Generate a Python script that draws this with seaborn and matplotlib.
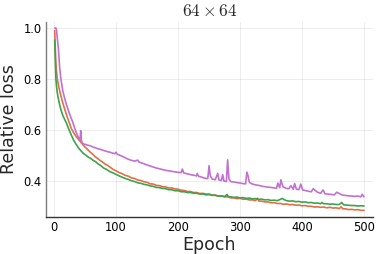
import matplotlib
matplotlib.use("Agg")
import matplotlib.pyplot as plt
import seaborn as sns
import pandas as pd

# ---- data ----
orange_epoch = [1, 2, 3, 4, 5, 6, 8, 10, 12, 14, 17, 20, 24, 28, 32, 36, 42, 46, 50, 54, 58, 62, 66, 70, 74,
                78, 82, 86, 90, 95, 100, 105, 110, 115, 120, 125, 130, 135, 140, 145, 150, 155, 160, 165,
                170, 175, 180, 185, 190, 195, 200, 205, 210, 215, 220, 225, 230, 235, 240, 245, 250, 255,
                260, 265, 270, 275, 280, 285, 290, 295, 300, 305, 310, 315, 320, 325, 328, 330, 335, 340,
                345, 350, 355, 360, 365, 370, 375, 380, 385, 390, 395, 400, 405, 410, 415, 420, 425, 430,
                435, 440, 445, 450, 455, 460, 463, 466, 470, 475, 480, 485, 490, 495, 500]
orange_loss = [0.99, 0.92, 0.86, 0.83, 0.805, 0.79, 0.765, 0.745, 0.725, 0.707, 0.683, 0.66, 0.632, 0.605,
               0.588, 0.573, 0.556, 0.544, 0.533, 0.524, 0.514, 0.506, 0.496, 0.489, 0.481, 0.475, 0.467,
               0.462, 0.455, 0.446, 0.440, 0.433, 0.429, 0.422, 0.419, 0.412, 0.410, 0.404, 0.402, 0.397,
               0.395, 0.389, 0.388, 0.383, 0.382, 0.378, 0.377, 0.373, 0.373, 0.369, 0.368, 0.364, 0.363,
               0.359, 0.359, 0.355, 0.355, 0.351, 0.352, 0.349, 0.349, 0.345, 0.345, 0.341, 0.341, 0.338,
               0.338, 0.334, 0.334, 0.331, 0.332, 0.329, 0.329, 0.326, 0.326, 0.323, 0.333, 0.322, 0.321,
               0.318, 0.318, 0.315, 0.315, 0.312, 0.312, 0.309, 0.310, 0.307, 0.308, 0.305, 0.306, 0.303,
               0.304, 0.301, 0.301, 0.298, 0.299, 0.297, 0.298, 0.295, 0.297, 0.294, 0.295, 0.292, 0.299,
               0.291, 0.291, 0.288, 0.289, 0.287, 0.288, 0.285, 0.285]

green_epoch = [1, 2, 3, 4, 5, 6, 8, 10, 12, 14, 17, 20, 23, 27, 31, 35, 40, 44, 47, 51, 55, 59, 63, 67, 70,
               75, 80, 85, 90, 95, 100, 105, 110, 115, 120, 125, 130, 135, 140, 145, 150, 155, 160, 165,
               170, 175, 180, 185, 190, 195, 200, 205, 210, 215, 220, 225, 230, 235, 240, 245, 250, 255,
               260, 265, 270, 275, 279, 281, 285, 290, 295, 300, 305, 310, 315, 320, 325, 330, 335, 340,
               345, 350, 355, 360, 365, 368, 372, 375, 380, 385, 390, 395, 400, 405, 410, 415, 420, 425,
               430, 432, 435, 440, 445, 450, 455, 460, 464, 467, 470, 475, 480, 485, 490, 495, 500]
green_loss = [0.953, 0.87, 0.80, 0.77, 0.75, 0.735, 0.71, 0.69, 0.672, 0.658, 0.642, 0.627, 0.608, 0.585,
              0.563, 0.546, 0.528, 0.517, 0.509, 0.502, 0.494, 0.489, 0.481, 0.476, 0.469, 0.461, 0.451,
              0.445, 0.437, 0.432, 0.426, 0.42, 0.415, 0.41, 0.406, 0.401, 0.398, 0.393, 0.391, 0.387,
              0.385, 0.381, 0.379, 0.375, 0.374, 0.371, 0.370, 0.366, 0.366, 0.362, 0.362, 0.358, 0.358,
              0.355, 0.355, 0.352, 0.352, 0.349, 0.349, 0.346, 0.347, 0.344, 0.344, 0.341, 0.342, 0.339,
              0.347, 0.339, 0.338, 0.336, 0.337, 0.334, 0.335, 0.332, 0.333, 0.330, 0.331, 0.328, 0.329,
              0.326, 0.327, 0.324, 0.325, 0.323, 0.328, 0.332, 0.326, 0.323, 0.321, 0.322, 0.319, 0.320,
              0.317, 0.318, 0.315, 0.316, 0.313, 0.314, 0.311, 0.316, 0.311, 0.311, 0.309, 0.310, 0.308,
              0.308, 0.316, 0.307, 0.306, 0.305, 0.304, 0.304, 0.302, 0.303, 0.302]

purple_epoch = [1, 3, 4, 5, 7, 9, 11, 14, 17, 20, 24, 27, 30, 34, 38, 41, 42, 43, 44, 45, 47, 51, 55, 59,
                63, 67, 70, 75, 80, 85, 90, 95, 98, 100, 102, 105, 110, 115, 120, 125, 130, 135, 137, 140,
                145, 150, 155, 160, 165, 170, 175, 180, 185, 190, 195, 200, 205, 207, 209, 215, 220, 225,
                230, 231, 233, 240, 245, 248, 250, 252, 255, 260, 264, 266, 270, 272, 274, 278, 280, 282,
                285, 290, 295, 300, 305, 309, 311, 313, 315, 320, 325, 330, 335, 340, 345, 350, 355, 359,
                361, 364, 366, 369, 375, 379, 382, 386, 388, 391, 395, 398, 401, 405, 410, 415, 418, 425,
                430, 434, 437, 445, 452, 456, 465, 475, 485, 490, 495, 497, 500]
purple_loss = [1.0, 1.0, 0.99, 0.965, 0.92, 0.845, 0.80, 0.755, 0.725, 0.70, 0.67, 0.65, 0.632, 0.602,
               0.577, 0.565, 0.561, 0.597, 0.56, 0.552, 0.546, 0.543, 0.540, 0.538, 0.533, 0.530, 0.527,
               0.524, 0.520, 0.516, 0.513, 0.509, 0.507, 0.513, 0.505, 0.502, 0.497, 0.491, 0.485, 0.481,
               0.478, 0.482, 0.474, 0.472, 0.468, 0.463, 0.459, 0.455, 0.451, 0.448, 0.445, 0.442, 0.440,
               0.438, 0.436, 0.434, 0.433, 0.447, 0.432, 0.428, 0.425, 0.423, 0.420, 0.430, 0.419, 0.414,
               0.410, 0.410, 0.460, 0.420, 0.408, 0.405, 0.430, 0.404, 0.402, 0.425, 0.400, 0.398, 0.483,
               0.410, 0.398, 0.396, 0.394, 0.392, 0.390, 0.389, 0.435, 0.420, 0.395, 0.388, 0.385, 0.383,
               0.380, 0.378, 0.376, 0.375, 0.373, 0.372, 0.392, 0.374, 0.405, 0.378, 0.371, 0.370, 0.382,
               0.368, 0.390, 0.368, 0.366, 0.388, 0.365, 0.363, 0.360, 0.358, 0.370, 0.356, 0.352, 0.365,
               0.350, 0.348, 0.346, 0.356, 0.345, 0.342, 0.340, 0.341, 0.338, 0.348, 0.338]

colors = {"orange": "#e26f46", "green": "#3da44d", "purple": "#c271d2"}

frames = []
for name, ep, ls in [("orange", orange_epoch, orange_loss),
                     ("green", green_epoch, green_loss),
                     ("purple", purple_epoch, purple_loss)]:
    frames.append(pd.DataFrame({"Epoch": ep, "loss": ls, "series": name}))
df = pd.concat(frames, ignore_index=True)

sns.set_theme(style="white")
plt.rcParams["font.family"] = ["DejaVu Sans"]
plt.rcParams["mathtext.fontset"] = "cm"

fig = plt.figure(figsize=(3.81, 2.54), dpi=100)
ax = fig.add_axes([46 / 381, 1 - 217 / 254, (373 - 46) / 381, (217 - 22) / 254])

sns.lineplot(data=df, x="Epoch", y="loss", hue="series", hue_order=["orange", "green", "purple"],
             palette=colors, estimator=None, sort=False, linewidth=1.2, legend=False, ax=ax)

ax.set_xlim(-13, 514.5)
ax.set_ylim(0.259, 1.0235)
ax.set_xticks([0, 100, 200, 300, 400, 500])
ax.set_yticks([0.4, 0.6, 0.8, 1.0])
ax.set_yticklabels(["0.4", "0.6", "0.8", "1.0"])
ax.grid(True, color="#000000", alpha=0.1, linewidth=0.5)
ax.set_axisbelow(True)
for s in ["top", "right"]:
    ax.spines[s].set_visible(False)
ax.spines["left"].set_color("#7f7f7f")
ax.spines["bottom"].set_color("#333333")
ax.spines["left"].set_linewidth(1.0)
ax.spines["bottom"].set_linewidth(1.0)
ax.tick_params(axis="both", direction="in", length=2.5, width=0.7, color="#333333",
               labelsize=8.3, pad=3, labelcolor="black")
ax.set_xlabel("Epoch", fontsize=12.5, labelpad=1)
ax.set_ylabel("Relative loss", fontsize=12.5, labelpad=4)
ax.set_title(r"$64\times64$", fontsize=12.5, pad=4)

fig.savefig("out.png", dpi=100)
